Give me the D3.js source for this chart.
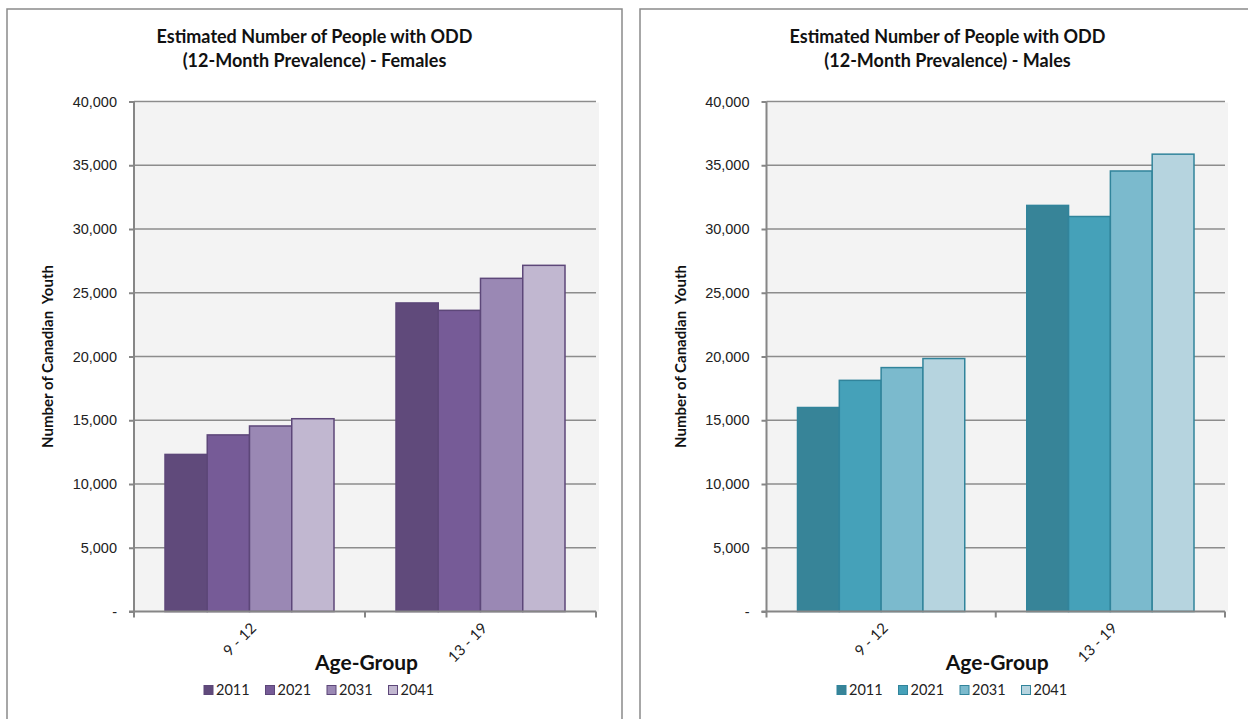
<!DOCTYPE html>
<html>
<head>
<meta charset="utf-8">
<script src="https://cdn.jsdelivr.net/npm/d3@7"></script>
<style>
  body { margin: 0; background: #ffffff; }
  svg { display: block; font-family: Lato, "Open Sans", sans-serif; }
</style>
</head>
<body>
<svg id="chart" width="1248" height="719"></svg>
<script>
// Age groups on the x axis and projection years shown as series
const ageGroups = ["9 - 12", "13 - 19"];
const years = ["2011", "2021", "2031", "2041"];

// Estimated counts, one array per year: [9 - 12, 13 - 19]
const female2011 = [12320, 24200];
const female2021 = [13850, 23620];
const female2031 = [14550, 26130];
const female2041 = [15120, 27150];

const male2011 = [16000, 31850];
const male2021 = [18130, 30980];
const male2031 = [19130, 34550];
const male2041 = [19840, 35870];

// Value axis ticks
const yTicks = [0, 5000, 10000, 15000, 20000, 25000, 30000, 35000, 40000];

const femaleColors = ["#604a7b", "#765b97", "#9a88b4", "#c1b7d0"];
const maleColors = ["#378498", "#45a1b9", "#7bbacd", "#b6d4df"];

const panels = [
  {
    x0: 7, plotLeft: 134, plotRight: 599,
    title: ["Estimated Number of People with ODD", "(12-Month Prevalence) - Females"],
    series: [female2011, female2021, female2031, female2041],
    colors: femaleColors, stroke: "#5d4779"
  },
  {
    x0: 640, plotLeft: 766.5, plotRight: 1228,
    title: ["Estimated Number of People with ODD", "(12-Month Prevalence) - Males"],
    series: [male2011, male2021, male2031, male2041],
    colors: maleColors, stroke: "#31849b"
  }
];

const svg = d3.select("#chart");
const panelW = 615;
const plotTop = 101.5, plotBottom = 611.5;
const axisColor = "#868686";
const fmt = v => v === 0 ? "-" : d3.format(",")(v);

const y = d3.scaleLinear().domain([0, 40000]).range([plotBottom, plotTop]);

panels.forEach(p => {
  const g = svg.append("g");

  // chart frame
  g.append("rect")
    .attr("x", p.x0).attr("y", 9)
    .attr("width", panelW).attr("height", 730)
    .attr("fill", "#ffffff")
    .attr("stroke", "#8a8a8a").attr("stroke-width", 1.5);

  // plot area background
  g.append("rect")
    .attr("x", p.plotLeft).attr("y", plotTop + 1)
    .attr("width", p.plotRight - p.plotLeft)
    .attr("height", plotBottom - plotTop - 1)
    .attr("fill", "#f3f3f3");

  // horizontal gridlines
  g.append("g").selectAll("line")
    .data(yTicks.filter(t => t > 0))
    .join("line")
    .attr("x1", p.plotLeft).attr("x2", p.plotRight - 3)
    .attr("y1", d => y(d)).attr("y2", d => y(d))
    .attr("stroke", "#8c8c8c").attr("stroke-width", 1.5);

  // category scale and inner series scale
  const x0 = d3.scaleBand().domain(ageGroups)
    .range([p.plotLeft, p.plotRight - 3]).padding(0);
  const gap = 31;
  const x1 = d3.scaleBand().domain(years)
    .range([gap, x0.bandwidth() - gap]).padding(0);

  // bars
  const barData = [];
  ageGroups.forEach((ag, i) => {
    years.forEach((yr, j) => {
      barData.push({ ag, yr, j, v: p.series[j][i] });
    });
  });
  g.append("g").selectAll("rect")
    .data(barData)
    .join("rect")
    .attr("x", d => x0(d.ag) + x1(d.yr))
    .attr("y", d => y(d.v))
    .attr("width", x1.bandwidth())
    .attr("height", d => y(0) - y(d.v))
    .attr("fill", d => p.colors[d.j])
    .attr("stroke", p.stroke).attr("stroke-width", 1.5);

  // y axis
  const yAxis = g.append("g")
    .attr("transform", `translate(${p.plotLeft},0)`)
    .call(d3.axisLeft(y).tickValues(yTicks).tickSize(5).tickPadding(12).tickFormat(fmt));
  yAxis.select(".domain").attr("stroke", axisColor).attr("stroke-width", 2)
    .attr("d", `M0,${plotTop}V${plotBottom}`);
  yAxis.selectAll(".tick line").attr("stroke", axisColor).attr("stroke-width", 2);
  yAxis.selectAll(".tick text")
    .attr("font-size", 14.5).attr("fill", "#222");

  // x axis line and category boundary ticks
  const xg = g.append("g");
  xg.append("line")
    .attr("x1", p.plotLeft - 5).attr("x2", p.plotRight - 3)
    .attr("y1", plotBottom).attr("y2", plotBottom)
    .attr("stroke", axisColor).attr("stroke-width", 2);
  const bounds = ageGroups.map(a => x0(a)).concat([x0(ageGroups[ageGroups.length - 1]) + x0.bandwidth()]);
  xg.selectAll("line.tk").data(bounds).join("line")
    .attr("class", "tk")
    .attr("x1", d => d).attr("x2", d => d)
    .attr("y1", plotBottom).attr("y2", plotBottom + 6)
    .attr("stroke", axisColor).attr("stroke-width", 2);
  xg.selectAll("text").data(ageGroups).join("text")
    .attr("transform", d => `translate(${x0(d) + x0.bandwidth() / 2 + 4},${plotBottom + 14}) rotate(-45)`)
    .attr("text-anchor", "end")
    .attr("dy", "0.35em")
    .attr("font-size", 15).attr("fill", "#222")
    .text(d => d);

  // title
  const cx = p.x0 + panelW / 2;
  g.append("text")
    .attr("x", cx).attr("text-anchor", "middle")
    .attr("font-size", 18).attr("font-weight", "bold").attr("fill", "#111")
    .selectAll("tspan").data(p.title).join("tspan")
    .attr("x", cx).attr("y", (d, i) => 43 + i * 24)
    .text(d => d);

  // value axis title
  g.append("text")
    .attr("transform", `translate(${p.x0 + 41},${(plotTop + plotBottom) / 2}) rotate(-90)`)
    .attr("text-anchor", "middle").attr("dy", "0.35em")
    .attr("font-size", 15).attr("font-weight", "bold").attr("fill", "#111")
    .style("white-space", "pre")
    .text("Number of Canadian  Youth");

  // category axis title
  g.append("text")
    .attr("x", (p.plotLeft + p.plotRight) / 2).attr("y", 670)
    .attr("text-anchor", "middle")
    .attr("font-size", 21).attr("font-weight", "bold").attr("fill", "#111")
    .text("Age-Group");

  // legend
  const lg = g.append("g").attr("transform", `translate(${p.x0 + 197},690)`);
  const items = lg.selectAll("g").data(years).join("g")
    .attr("transform", (d, i) => `translate(${i * 61.5},0)`);
  items.append("rect")
    .attr("x", 0).attr("y", -4.5).attr("width", 9).attr("height", 9)
    .attr("fill", (d, i) => p.colors[i])
    .attr("stroke", p.stroke).attr("stroke-width", 1);
  items.append("text")
    .attr("x", 12).attr("dy", "0.36em")
    .attr("font-size", 14.5).attr("fill", "#222")
    .text(d => d);
});
</script>
</body>
</html>
